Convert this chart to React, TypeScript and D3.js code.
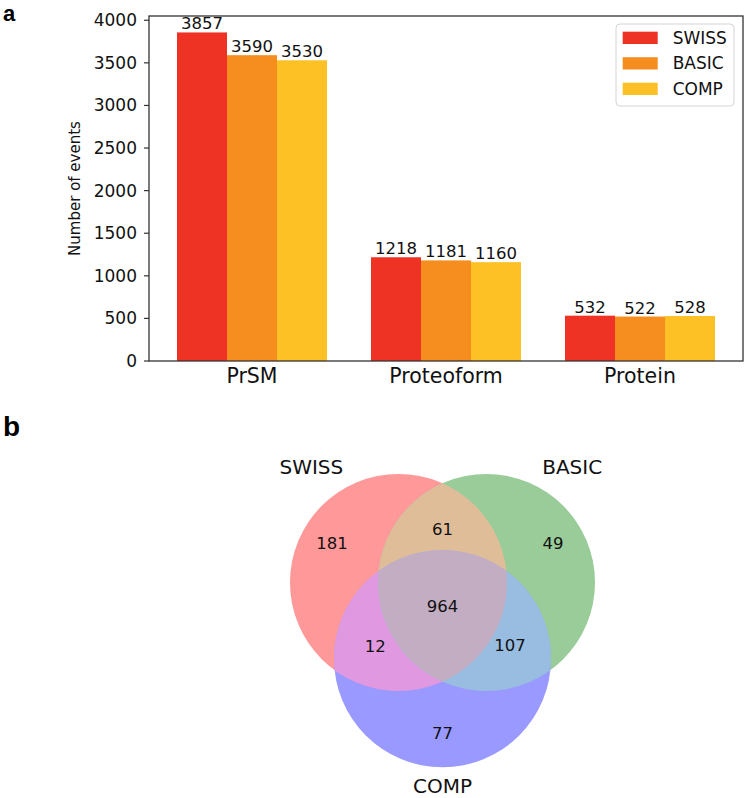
import React from 'react';
import * as d3 from 'd3';

// bar chart data (panel a)
const categories = ['PrSM', 'Proteoform', 'Protein'];
const seriesNames = ['SWISS', 'BASIC', 'COMP'];
const swissValues = [3857, 1218, 532];
const basicValues = [3590, 1181, 522];
const compValues = [3530, 1160, 528];
const seriesColors = ['#ee3224', '#f68e1f', '#fdc025'];
const yTicks = [0, 500, 1000, 1500, 2000, 2500, 3000, 3500, 4000];

// venn data (panel b) - region keys are SWISS/BASIC/COMP membership flags
const vennSetNames = ['SWISS', 'BASIC', 'COMP'];
const vennRegionKeys = ['100', '010', '110', '001', '101', '011', '111'];
const vennRegionCounts = [181, 49, 61, 77, 12, 107, 964];

// layout (venn units, side of the centre triangle = 1)
const vennCenters: [number, number][] = [[-0.5, 0], [0.5, 0], [0, Math.sqrt(3) / 2]];
const vennRadius = 1.233;
const regionLabelPos: Record<string, [number, number]> = {
  '100': [-1.255, -0.449],
  '010': [1.255, -0.449],
  '110': [0, -0.608],
  '001': [0, 1.71],
  '101': [-0.763, 0.72],
  '011': [0.767, 0.716],
  '111': [0, 0.275],
};
const setLabelPos: [number, number][] = [[-1.49, -1.316], [1.474, -1.316], [0, 2.313]];

const FONT = '"DejaVu Sans", sans-serif';

// matplotlib_venn style colour mixing, alpha 0.4 over white
const baseRgb = [[1, 0, 0], [0, 0.5, 0], [0, 0, 1]];
function regionColor(key: string) {
  const idx = key.split('').map((c, i) => (c === '1' ? i : -1)).filter(i => i >= 0);
  const k = idx.length === 1 ? 1 : idx.length === 2 ? 0.7 : 0.4;
  const mix = [0, 1, 2].map(ch => Math.min(1, k * d3.sum(idx, i => baseRgb[i][ch])));
  const [r, g, b] = mix.map(v => Math.round(255 * (0.6 + 0.4 * v)));
  return d3.rgb(r, g, b).formatHex();
}

const BarPanel: React.FC = () => {
  const left = 149, right = 743, top = 16, bottom = 361;
  const values = [swissValues, basicValues, compValues];

  const x0 = d3.scaleBand().domain(categories).range([left, right]).paddingInner(0.2268).paddingOuter(0.1443);
  const x1 = d3.scaleBand().domain(seriesNames).range([0, x0.bandwidth()]);
  const y = d3.scaleLinear().domain([0, 4050]).range([bottom, top]);

  return (
    <g>
      {categories.map((cat, ci) => (
        <g key={cat} transform={`translate(${x0(cat)},0)`}>
          {seriesNames.map((s, si) => {
            const v = values[si][ci];
            return (
              <g key={s}>
                <rect x={x1(s)} y={y(v)} width={x1.bandwidth()} height={bottom - y(v)} fill={seriesColors[si]} />
                <text x={(x1(s) || 0) + x1.bandwidth() / 2} y={y(v) - 3} textAnchor="middle" fontSize={16.5} fill="#111">{v}</text>
              </g>
            );
          })}
          <text x={x0.bandwidth() / 2} y={383} textAnchor="middle" fontSize={20.5} fill="#111">{cat}</text>
        </g>
      ))}

      {/* frame */}
      <rect x={left} y={top} width={right - left} height={bottom - top} fill="none" stroke="#333" strokeWidth={1.3} />

      {/* y axis */}
      {yTicks.map(t => (
        <g key={t} transform={`translate(0,${y(t)})`}>
          <line x1={left - 5} x2={left} stroke="#333" strokeWidth={1.2} />
          <text x={137} dy="0.35em" textAnchor="end" fontSize={17} fill="#111">{t}</text>
        </g>
      ))}
      <text transform={`translate(75,${(top + bottom) / 2}) rotate(-90)`} textAnchor="middle" dominantBaseline="central" fontSize={15} fill="#111">Number of events</text>

      {/* legend */}
      <g transform="translate(616,24)">
        <rect width={118} height={82} rx={4} fill="#fff" fillOpacity={0.8} stroke="#d4d4d4" strokeWidth={1} />
        {seriesNames.map((s, i) => (
          <g key={s} transform={`translate(0,${7.7 + i * 25.5})`}>
            <rect x={6.7} width={35} height={12.3} fill={seriesColors[i]} />
            <text x={56.7} y={6.2} dy="0.35em" fontSize={17} fill="#111">{s}</text>
          </g>
        ))}
      </g>
    </g>
  );
};

const VennPanel: React.FC = () => {
  const unit = 88;
  const vx = d3.scaleLinear().domain([0, 1]).range([442.5, 442.5 + unit]);
  const vy = d3.scaleLinear().domain([0, 1]).range([582.5, 582.5 + unit]);
  const r = vx(vennRadius) - vx(0);
  const circle = (i: number, fill: string) => (
    <circle cx={vx(vennCenters[i][0])} cy={vy(vennCenters[i][1])} r={r} fill={fill} />
  );

  return (
    <g>
      <defs>
        {vennCenters.map((c, i) => (
          <clipPath id={`venn-clip-${i}`} key={i}>
            <circle cx={vx(c[0])} cy={vy(c[1])} r={r} />
          </clipPath>
        ))}
      </defs>
      {/* single-set areas */}
      {circle(0, regionColor('100'))}
      {circle(1, regionColor('010'))}
      {circle(2, regionColor('001'))}
      {/* pairwise */}
      <g clipPath="url(#venn-clip-1)">{circle(0, regionColor('110'))}</g>
      <g clipPath="url(#venn-clip-2)">{circle(0, regionColor('101'))}</g>
      <g clipPath="url(#venn-clip-2)">{circle(1, regionColor('011'))}</g>
      {/* all three */}
      <g clipPath="url(#venn-clip-1)"><g clipPath="url(#venn-clip-2)">{circle(0, regionColor('111'))}</g></g>

      {vennRegionKeys.map((k, i) => (
        <text key={k} x={vx(regionLabelPos[k][0])} y={vy(regionLabelPos[k][1])} dy="0.35em" textAnchor="middle" fontSize={16.5} fill="#111">
          {vennRegionCounts[i]}
        </text>
      ))}
      {vennSetNames.map((n, i) => (
        <text key={n} x={vx(setLabelPos[i][0])} y={vy(setLabelPos[i][1])} dy="0.35em" textAnchor="middle" fontSize={20} fill="#111">
          {n}
        </text>
      ))}
    </g>
  );
};

export default function App() {
  return (
    <svg width={750} height={798} style={{ position: 'absolute', left: 0, top: 0, background: '#fff' }} fontFamily={FONT}>
      <rect width={750} height={798} fill="#fff" />
      <BarPanel />
      <VennPanel />
      <text x={3} y={21} fontFamily='"Liberation Sans", sans-serif' fontWeight={700} fontSize={22} fill="#000">a</text>
      <text x={3} y={436} fontFamily='"Liberation Sans", sans-serif' fontWeight={700} fontSize={28} fill="#000">b</text>
    </svg>
  );
}
